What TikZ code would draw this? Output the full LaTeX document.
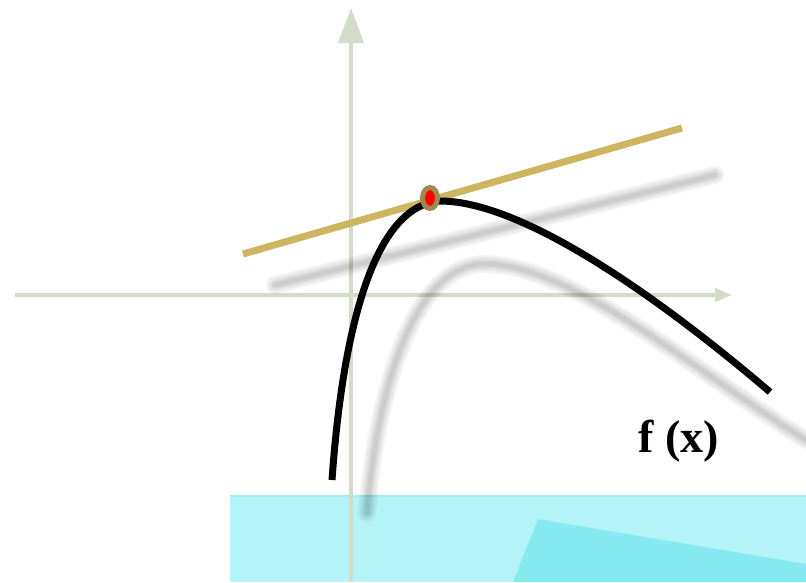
\documentclass[tikz,border=0pt]{standalone}
\usepackage{fontspec}
\setmainfont{Liberation Serif}
\usetikzlibrary{arrows.meta,shapes.geometric}
\definecolor{axisgreen}{RGB}{211,219,201}
\definecolor{tankhaki}{RGB}{205,181,97}
\definecolor{dotolive}{RGB}{156,138,78}
\definecolor{boxcyan}{RGB}{180,243,248}
\definecolor{boxedge}{RGB}{160,236,244}
\definecolor{wedgecyan}{RGB}{133,233,239}

\begin{document}
\begin{tikzpicture}[
  x=1pt, y=-1pt,
  axis/.style={
    axisgreen,
    line width=3.5pt
  },
  blur/.style={
    line cap=round,
    draw=black,
    draw opacity=0.045,
    line width=#1
  },
  fcurve/.style={
    line width=7pt,
    black
  },
  tangent/.style={
    line width=7pt,
    tankhaki
  },
  touch/.style={
    ellipse,
    draw=dotolive,
    line width=5pt,
    fill=red,
    minimum width=15pt,
    minimum height=21pt,
    inner sep=0pt
  },
  label/.style={
    font=\fontsize{46}{50}\selectfont\bfseries
  }
]

\useasboundingbox (0,0) rectangle (806,582);

% band at the bottom
\fill[boxcyan] (230,495) rectangle (806,582);
\draw[boxedge, line width=2pt] (230,496) -- (806,496);
\fill[wedgecyan] (538,519) -- (806,564) -- (806,582) -- (513,582) -- cycle;

% axes
\draw[axis, -{Triangle[length=17pt, width=13pt]}] (15,295) -- (732,295);
\draw[axis, -{Triangle[length=35pt, width=25pt]}] (351,582) -- (351,8);

% shadows
\foreach \w in {18,14,10,7,4} {
  \draw[blur=\w pt] (275,285) -- (715,175);
  \draw[blur=\w pt] (367,513) .. controls (376,400) and (410,268) .. (482,264)
    .. controls (570,262) and (700,375) .. (806,440);
}

% tangent and function
\draw[tangent] (243,254) -- (682,128);
\draw[fcurve] (332,480) .. controls (343,325) and (375,205) .. (440,201)
  .. controls (530,201) and (680,315) .. (770,392);

\node[touch] (tp) at (430,198) {};
\node[label] (fx) at (679,441) {f (x)};

\end{tikzpicture}
\end{document}
